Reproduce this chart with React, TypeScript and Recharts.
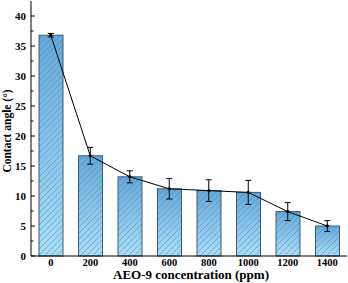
import React from 'react';
import { ComposedChart, Bar, Line, XAxis, YAxis, ErrorBar } from 'recharts';

const concentrations = ['0', '200', '400', '600', '800', '1000', '1200', '1400'];
const contactAngle = [36.8, 16.7, 13.2, 11.2, 10.9, 10.6, 7.4, 5.0];
const angleError = [0.3, 1.4, 1.0, 1.7, 1.8, 2.0, 1.5, 0.9];
const yTicks = [0, 2.5, 5, 7.5, 10, 12.5, 15, 17.5, 20, 22.5, 25, 27.5, 30, 32.5, 35, 37.5, 40];
const yMajorTicks = [0, 5, 10, 15, 20, 25, 30, 35, 40];

const data = concentrations.map((c, i) => ({ c, v: contactAngle[i], err: angleError[i] }));

const FONT = '"Liberation Serif", "Times New Roman", serif';

const BarShape = (props: any) => {
  const { x, y, width, height } = props;
  if (!height || height <= 0) return null;
  return (
    <g>
      <rect x={x} y={y} width={width} height={height} fill="url(#barGrad)" />
      <rect x={x} y={y} width={width} height={height} fill="url(#hatch)" />
      <rect x={x} y={y} width={width} height={height} fill="none" stroke="#3d5a75" strokeWidth={1} />
    </g>
  );
};

const YTick = (props: any) => {
  const { x, y, payload } = props;
  const major = yMajorTicks.includes(payload.value);
  return (
    <g>
      <line x1={x} x2={x + (major ? 4 : 2.5)} y1={y} y2={y} stroke="#000" strokeWidth={1} />
      {major && (
        <text x={x - 5} y={y + 4} textAnchor="end" fontFamily={FONT} fontWeight="bold" fontSize={11} fill="#000">
          {payload.value}
        </text>
      )}
    </g>
  );
};

const XTick = (props: any) => {
  const { x, y, payload } = props;
  return (
    <text x={x} y={y + 10} textAnchor="middle" fontFamily={FONT} fontWeight="bold" fontSize={10.5} fill="#000">
      {payload.value}
    </text>
  );
};

export default function App() {
  return (
    <div style={{ position: 'absolute', left: 0, top: 0, width: 348, height: 283, background: '#fff' }}>
      <ComposedChart width={348} height={283} data={data} margin={{ top: 1, right: 1, left: 0, bottom: 0 }}>
        <defs>
          <linearGradient id="barGrad" x1="0" y1="0" x2="0" y2="1">
            <stop offset="0%" stopColor="#66a9da" />
            <stop offset="100%" stopColor="#a9defa" />
          </linearGradient>
          <pattern id="hatch" patternUnits="userSpaceOnUse" width="6" height="6">
            <path d="M0,6 L6,0 M-1.5,1.5 L1.5,-1.5 M4.5,7.5 L7.5,4.5" stroke="#3f78a6" strokeWidth={0.6} strokeOpacity={0.75} />
          </pattern>
        </defs>
        <XAxis
          dataKey="c"
          height={27}
          tickSize={0}
          tickMargin={0}
          tickLine={false}
          tick={<XTick />}
          axisLine={{ stroke: '#000', strokeWidth: 1 }}
          interval={0}
          label={{
            content: (p: any) => {
              const vb = p.viewBox || { x: 31, width: 316, y: 256 };
              return (
                <text x={vb.x + vb.width / 2 + 2} y={279} textAnchor="middle" fontFamily={FONT} fontWeight="bold" fontSize={13} fill="#000">
                  AEO-9 concentration (ppm)
                </text>
              );
            },
          }}
        />
        <XAxis xAxisId="top" dataKey="c" orientation="top" height={0} tick={false} tickLine={false} axisLine={{ stroke: '#000', strokeWidth: 1 }} />
        <YAxis
          width={31}
          domain={[0, 42.5]}
          ticks={yTicks}
          interval={0}
          tickSize={0}
          tickMargin={0}
          tickLine={false}
          tick={<YTick />}
          axisLine={{ stroke: '#000', strokeWidth: 1 }}
          label={{
            content: () => (
              <text x={11} y={131} transform="rotate(-90 11 131)" textAnchor="middle" fontFamily={FONT} fontWeight="bold" fontSize={11.5} fill="#000">
                Contact angle (°)
              </text>
            ),
          }}
        />
        <YAxis yAxisId="right" orientation="right" width={0} domain={[0, 42.5]} tick={false} tickLine={false} axisLine={{ stroke: '#000', strokeWidth: 1 }} />
        <Bar dataKey="v" barSize={24} shape={<BarShape />} isAnimationActive={false} />
        <Line
          dataKey="v"
          type="linear"
          stroke="#000"
          strokeWidth={1}
          dot={{ r: 1.2, fill: '#000', stroke: '#000' }}
          activeDot={false}
          isAnimationActive={false}
        >
          <ErrorBar dataKey="err" width={3} stroke="#000" strokeWidth={1} direction="y" />
        </Line>
      </ComposedChart>
    </div>
  );
}
